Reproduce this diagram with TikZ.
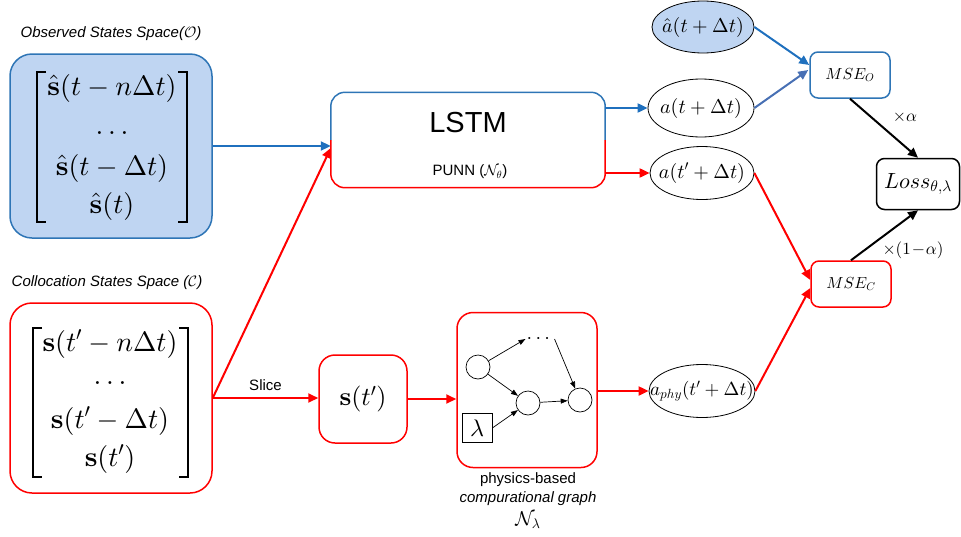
\documentclass[tikz,border=0pt]{standalone}
\usepackage[no-math]{fontspec}
\usepackage{amsmath}
\newfontfamily\arial{Liberation Sans}
\usetikzlibrary{arrows.meta,shapes.geometric,calc}

% scalable Computer Modern shapes for the large math used below
\DeclareFontShape{OT1}{cmr}{m}{n}{<->cmr10}{}
\DeclareFontShape{OT1}{cmr}{bx}{n}{<->cmbx10}{}
\DeclareFontShape{OML}{cmm}{m}{it}{<->cmmi10}{}
\DeclareFontShape{OML}{cmm}{b}{it}{<->cmmib10}{}
\DeclareFontShape{OMS}{cmsy}{m}{n}{<->cmsy10}{}
\DeclareFontShape{OMX}{cmex}{m}{n}{<->cmex10}{}

\definecolor{obsfill}{RGB}{191,213,242}
\definecolor{obsline}{RGB}{46,117,182}
\definecolor{arrowblue}{RGB}{31,112,190}
\definecolor{greyblue}{RGB}{72,112,180}
\definecolor{myred}{RGB}{255,0,0}

\begin{document}
\begin{tikzpicture}[x=1pt,y=-1pt,
  conn/.style={line width=2pt,-{Triangle[length=10pt,width=9pt]}},
  blueconn/.style={conn,draw=arrowblue},
  redconn/.style={conn,draw=myred},
  blackconn/.style={conn,draw=black},
  thinconn/.style={line width=0.7pt,-{Triangle[length=7pt,width=5pt]}},
  spacebox/.style={draw,rounded corners=22pt,line width=1.5pt,inner sep=0pt},
  stepbox/.style={draw=myred,rounded corners=16pt,line width=1.5pt,inner sep=0pt},
  msebox/.style={draw,rounded corners=8pt,line width=1.5pt,minimum width=80pt,minimum height=46pt,inner sep=0pt,font=\fontsize{16}{18}\selectfont},
  outell/.style={ellipse,draw,line width=0.8pt,inner xsep=-30pt,inner ysep=-10pt,font=\fontsize{20}{22}\selectfont},
  gnode/.style={circle,draw,line width=0.7pt,minimum size=24pt,inner sep=0pt},
  sanslabel/.style={font=\arial\fontsize{15}{17}\selectfont},
  sansit/.style={font=\arial\itshape\fontsize{15}{17}\selectfont},
  vrow/.style={anchor=base,inner sep=0pt,font=\fontsize{28}{34}\selectfont},
  bracket/.style={line width=2.6pt,line cap=butt},
]
\useasboundingbox (0,0) rectangle (961,536);

% ---- observed state space ----
\node[sansit] (obstitle) at (111,34) {Observed States Space($\mathcal{O}$)};
\node[spacebox,draw=obsline,fill=obsfill,minimum width=202pt,minimum height=184pt] (obs) at (111,146) {};
\node[vrow] (o1) at (112,95) {$\hat{\mathbf{s}}(t-n\Delta t)$};
\node[vrow] (o2) at (112,134) {$\ldots$};
\node[vrow] (o3) at (112,175) {$\hat{\mathbf{s}}(t-\Delta t)$};
\node[vrow] (o4) at (112,213) {$\hat{\mathbf{s}}(t)$};
\draw[bracket] (46,72) -| (37,222) -- (46,222);
\draw[bracket] (178,72) -| (187,222) -- (178,222);

% ---- collocation state space ----
\node[sansit] (coltitle) at (107,283) {Collocation States Space ($\mathcal{C}$)};
\node[spacebox,draw=myred,minimum width=202pt,minimum height=190pt] (col) at (111,398) {};
\node[vrow] (c1) at (110,351) {$\mathbf{s}(t'-n\Delta t)$};
\node[vrow] (c2) at (110,384) {$\ldots$};
\node[vrow] (c3) at (110,428) {$\mathbf{s}(t'-\Delta t)$};
\node[vrow] (c4) at (110,466) {$\mathbf{s}(t')$};
\draw[bracket] (42,328) -| (33,477) -- (42,477);
\draw[bracket] (179,328) -| (188,477) -- (179,477);

% ---- LSTM block, blue upper half and red lower half ----
\node[minimum width=274pt,minimum height=95pt,inner sep=0pt] (lstm) at (468,140) {};
\draw[obsline,line width=1.5pt,rounded corners=14pt] (lstm.west) |- (lstm.north) -| (lstm.east);
\draw[myred,line width=1.5pt,rounded corners=14pt] (lstm.west) |- (lstm.south) -| (lstm.east);
\node[font=\arial\fontsize{29}{32}\selectfont] (lstmtext) at (468,123) {LSTM};
\node[sanslabel] (punn) at (470,172) {PUNN ($\mathcal{N}_\theta$)};

% ---- slice and physics graph ----
\node[stepbox,minimum width=88pt,minimum height=88pt,font=\fontsize{26}{30}\selectfont] (st) at (363,399) {$\mathbf{s}(t')$};
\node[stepbox,minimum width=140pt,minimum height=155pt] (graph) at (527,390) {};
\node[gnode] (ga) at (478,367) {};
\node[gnode] (gb) at (528,403) {};
\node[gnode] (gc) at (580,400) {};
\node[font=\fontsize{20}{22}\selectfont,inner sep=1pt] (gdots) at (540,339) {$\cdots$};
\node[draw,line width=0.7pt,minimum width=30pt,minimum height=29pt,inner sep=0pt,
      font=\fontsize{24}{26}\selectfont] (lam) at (477,428) {$\lambda$};
\draw[thinconn] (ga) -- (gdots.west);
\draw[thinconn] (ga) -- (gb);
\draw[thinconn] (lam.east) -- (gb);
\draw[thinconn] (gb) -- (gc);
\draw[thinconn] (gdots.east) -- (gc);
\node[sanslabel] (gl1) at (528,480) {physics-based};
\node[sansit] (gl2) at (528,499) {compurational graph};
\node[font=\fontsize{20}{22}\selectfont] (gl3) at (528,520) {$\mathcal{N}_\lambda$};

% ---- outputs ----
\node[outell,fill=obsfill,minimum width=102pt,minimum height=52pt] (ahat) at (703,27) {$\hat{a}(t+\Delta t)$};
\node[outell,minimum width=106pt,minimum height=58pt] (apred) at (701,108) {$a(t+\Delta t)$};
\node[outell,minimum width=104pt,minimum height=53pt] (apc) at (702,173) {$a(t'+\Delta t)$};
\node[outell,minimum width=106pt,minimum height=53pt,font=\fontsize{19}{21}\selectfont] (aphy) at (702,391) {$a_{phy}(t'+\Delta t)$};

% ---- losses ----
\node[msebox,draw=obsline] (mseo) at (850,75) {$MSE_{O}$};
\node[msebox,draw=myred] (msec) at (851,284) {$MSE_{C}$};
\node[draw,rounded corners=8pt,line width=1.5pt,minimum width=83pt,minimum height=51pt,inner sep=0pt,
      font=\fontsize{22}{24}\selectfont] (loss) at (918,184) {$Loss_{\theta,\lambda}$};

% ---- connectors ----
\draw[blueconn] (obs.east) -- (obs.east -| lstm.west);
\draw[redconn] (col.east) -- ($(lstm.west)+(0,8)$);
\draw[redconn] (col.east) -- node[sanslabel,above=3pt] (slice) {Slice} (col.east -| st.west);
\draw[redconn] (st.east) -- (st.east -| graph.west);
\draw[redconn] (aphy.west -| graph.east) -- (aphy.west);
\draw[blueconn] (apred.west -| lstm.east) -- (apred.west);
\draw[redconn] (apc.west -| lstm.east) -- (apc.west);
\draw[blueconn] (ahat.east) -- ($(mseo.west)+(0,-10)$);
\draw[conn,draw=greyblue] (apred.east) -- ($(mseo.west)+(-1,-5)$);
\draw[redconn] (apc.east) -- ($(msec.west)+(0,-4)$);
\draw[redconn] (aphy.east) -- ($(msec.west)+(0,4)$);
\draw[blackconn] (mseo.south) -- (loss.north);
\draw[blackconn] (msec.north) -- (loss.south);
\node[font=\fontsize{17}{19}\selectfont] (wa) at (905,117) {$\times\alpha$};
\node[font=\fontsize{17}{19}\selectfont] (wb) at (913,250) {$\times(1\!-\!\alpha)$};
\end{tikzpicture}
\end{document}
